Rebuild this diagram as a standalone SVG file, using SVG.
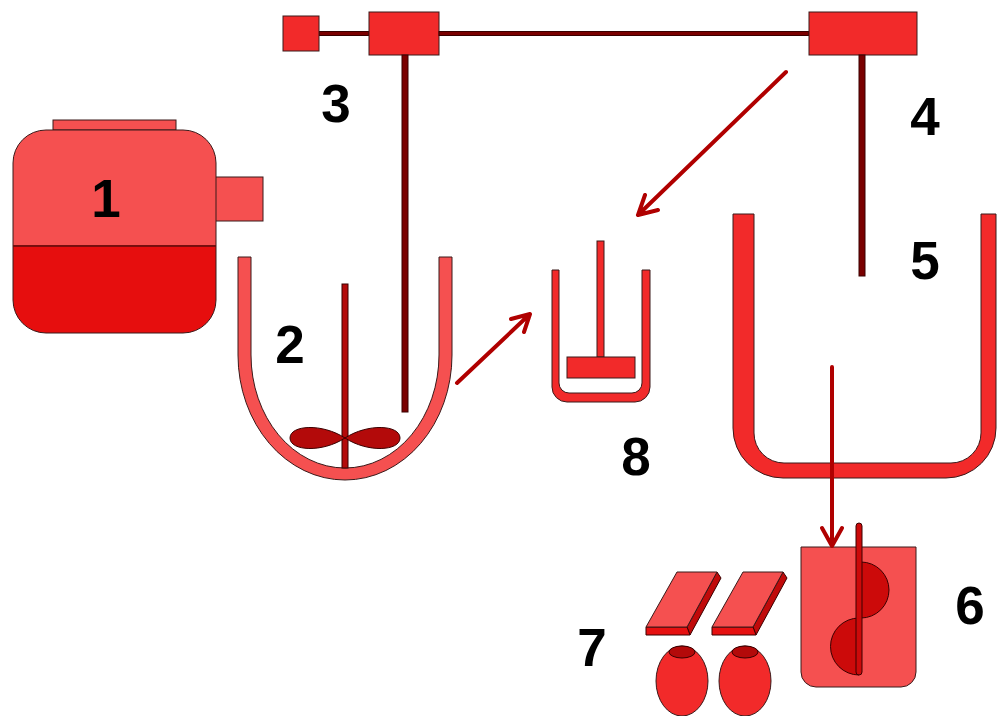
<svg xmlns="http://www.w3.org/2000/svg" width="997" height="716" viewBox="0 0 997 716">
  <style>
    .lbl { font-family: "Liberation Sans", Arial, sans-serif; font-weight: bold; font-size: 53px; fill: #000; text-anchor: middle; }
    .light { fill: #F55050; stroke: #3a1a1a; stroke-width: 1; }
    .bright { fill: #F22A2A; stroke: #3a1a1a; stroke-width: 1; }
    .deep { fill: #E60E0E; stroke: #3a1a1a; stroke-width: 1; }
    .dark { fill: #B30A0A; stroke: #3a0000; stroke-width: 1; }
    .pipe { fill: #7A0000; stroke: #3a0000; stroke-width: 1; }
    .flow { fill: none; stroke: #B00000; stroke-width: 4; stroke-linecap: round; stroke-linejoin: round; }
  </style>
  <rect width="997" height="716" fill="#fff"/>

  <!-- 1: storage tank -->
  <g id="tank1">
    <rect class="light" x="53" y="120" width="123" height="10"/>
    <rect class="light" x="210" y="177" width="53" height="44"/>
    <path class="light" d="M13,246 V163 A33,33 0 0 1 46,130 H183 A33,33 0 0 1 216,163 V246 Z"/>
    <path class="deep" d="M13,246 V300 A33,33 0 0 0 46,333 H183 A33,33 0 0 0 216,300 V246 Z"/>
    <line x1="13" y1="246" x2="216" y2="246" stroke="#7a0a0a" stroke-width="1.5"/>
    <text class="lbl" x="106" y="217">1</text>
  </g>

  <!-- 3 and 4: overhead drive units and pipework -->
  <g id="drive3">
    <rect class="pipe" x="319" y="31.5" width="50" height="4"/>
    <rect class="bright" x="283" y="16" width="36" height="35"/>
    <rect class="bright" x="369" y="12" width="70" height="43"/>
    <rect class="pipe" x="402" y="55" width="6" height="357"/>
    <text class="lbl" x="336" y="122">3</text>
  </g>
  <g id="drive4">
    <rect class="pipe" x="439" y="31.5" width="370" height="4"/>
    <rect class="bright" x="809" y="12" width="108" height="43"/>
    <rect class="pipe" x="859" y="55" width="6" height="221"/>
    <text class="lbl" x="925" y="135">4</text>
  </g>

  <!-- 2: jacketed reactor with impeller -->
  <g id="reactor2">
    <path class="light" d="M238,257 V355 A107,125 0 0 0 452,355 V257 H439 V355 A94,113 0 0 1 251,355 V257 Z"/>
    <rect class="dark" x="342" y="284" width="6" height="184"/>
    <path class="dark" d="M345,438 C322,423 290,425 290,438 C290,451 322,453 345,438 Z"/>
    <path class="dark" d="M345,438 C368,423 400,425 400,438 C400,451 368,453 345,438 Z"/>
    <text class="lbl" x="290" y="363">2</text>
  </g>

  <!-- 8: small vessel with paddle -->
  <g id="vessel8">
    <path class="bright" d="M552,270 V387 A15,15 0 0 0 567,402 H635 A15,15 0 0 0 650,387 V270 H642 V383 A10,10 0 0 1 632,393 H569 A10,10 0 0 1 559,383 V270 Z"/>
    <rect class="bright" x="597" y="241" width="7" height="116"/>
    <rect class="bright" x="567" y="357" width="68" height="21"/>
    <text class="lbl" x="636" y="475">8</text>
  </g>

  <!-- 5: large open tank -->
  <g id="tank5">
    <path class="bright" d="M733,214 V428 A50,50 0 0 0 783,478 H946 A50,50 0 0 0 996,428 V214 H981 V433 A30,30 0 0 1 951,463 H784 A30,30 0 0 1 754,433 V214 Z"/>
    <text class="lbl" x="925" y="279">5</text>
  </g>

  <!-- 6: mixing beaker with helical stirrer -->
  <g id="beaker6">
    <path class="light" d="M801,547 H916 V672 A15,15 0 0 1 901,687 H816 A15,15 0 0 1 801,672 Z"/>
    <path fill="#CC0A0A" stroke="#3a0000" stroke-width="1" d="M861,562 A28,28 0 0 1 861,618 Z"/>
    <path fill="#CC0A0A" stroke="#3a0000" stroke-width="1" d="M859,618 A28.5,28.5 0 0 0 859,675 Z"/>
    <rect x="856" y="523" width="6" height="152" rx="3" fill="#CC0A0A" stroke="#3a0000" stroke-width="1"/>
    <text class="lbl" x="970" y="624">6</text>
  </g>

  <!-- 7: moulded sheets and pellets -->
  <g id="products7">
    <polygon fill="#C00A0A" stroke="#3a0000" stroke-width="1" points="717,572 721,578 690,635 687,627"/>
    <polygon fill="#E61010" stroke="#3a0000" stroke-width="1" points="646,627 687,627 690,635 646,635"/>
    <polygon class="light" points="677,572 717,572 687,627 646,627"/>
    <polygon fill="#C00A0A" stroke="#3a0000" stroke-width="1" points="783,572 787,578 756,635 753,627"/>
    <polygon fill="#E61010" stroke="#3a0000" stroke-width="1" points="712,627 753,627 756,635 712,635"/>
    <polygon class="light" points="743,572 783,572 753,627 712,627"/>
    <ellipse class="bright" cx="682" cy="681" rx="26" ry="35"/>
    <ellipse class="dark" cx="682" cy="652" rx="13" ry="6"/>
    <ellipse class="bright" cx="745" cy="681" rx="26" ry="35"/>
    <ellipse class="dark" cx="745" cy="652" rx="13" ry="6"/>
    <text class="lbl" x="592" y="666">7</text>
  </g>

  <!-- process flow arrows -->
  <g id="connectors">
    <path class="flow" d="M786,72 L638,215 M645,195 L638,215 L658,210"/>
    <path class="flow" d="M457,383 L530,314 M511,319 L530,314 L524,332"/>
    <path class="flow" d="M832,367 L832,546 M822,528 L832,546 L842,528"/>
  </g>
</svg>
